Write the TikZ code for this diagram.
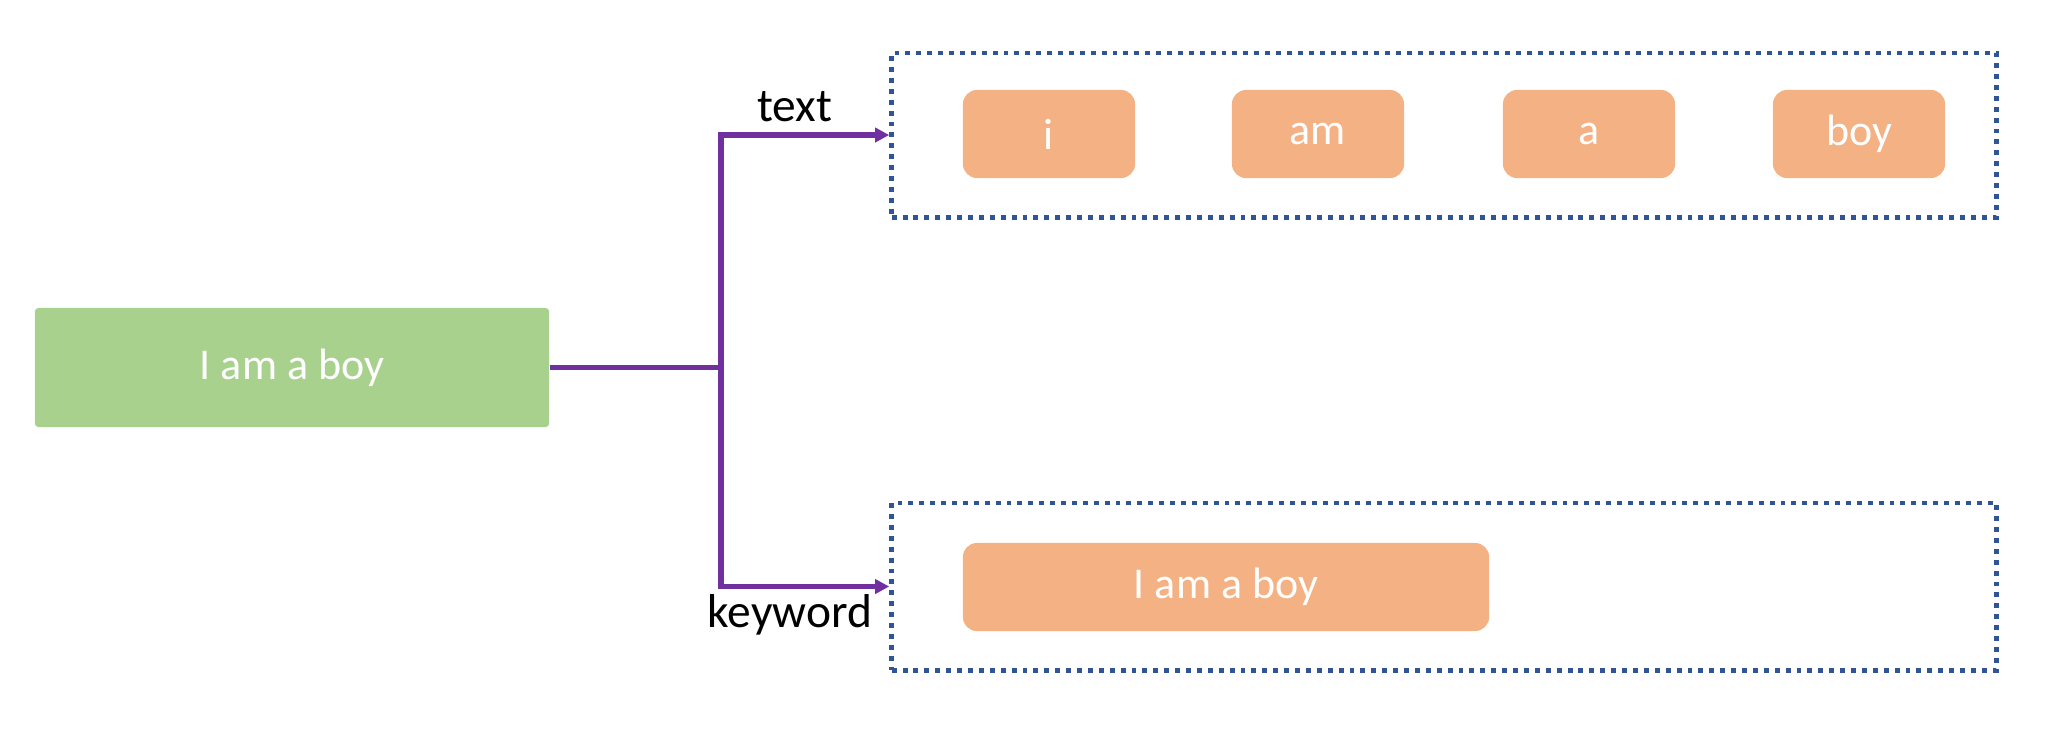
\documentclass[tikz,border=0pt]{standalone}
\usepackage{fontspec}
\setmainfont{Carlito}
\usetikzlibrary{arrows.meta}
\definecolor{gfill}{HTML}{A9D18E}
\definecolor{ofill}{HTML}{F4B183}
\definecolor{pline}{HTML}{7030A0}
\definecolor{dline}{HTML}{2F5597}
\begin{document}
\begin{tikzpicture}[x=0.01cm,y=-0.01cm,
  greenbox/.style={fill=gfill,draw=none,rounded corners=1pt,minimum width=5.14cm,minimum height=1.19cm,text=white,font=\fontsize{12.5}{14}\selectfont,inner sep=0pt},
  wordbox/.style={fill=ofill,draw=none,rounded corners=4pt,minimum width=1.72cm,minimum height=0.88cm,text=white,font=\fontsize{12.5}{14}\selectfont,inner sep=0pt},
  dotbox/.style={draw=dline,line width=1.4pt,dash pattern=on 1.4pt off 1.7pt,fill=none,inner sep=0pt},
  conn/.style={draw=pline,line width=1.5pt},
  arr/.style={conn,-{Triangle[length=4pt,width=4pt]}},
  lbl/.style={font=\fontsize{13.5}{15}\selectfont,text=black,inner sep=0pt}]
\useasboundingbox (0,0) rectangle (2048,729);
\node[greenbox] (src) at (292,367.5) {I am a boy};
\node[dotbox,minimum width=11.04cm,minimum height=1.64cm] (top) at (1444,135) {};
\node[dotbox,minimum width=11.04cm,minimum height=1.67cm] (bot) at (1444,586.5) {};
\node[wordbox] (w1) at (1049,134) {i};
\node[wordbox] (w2) at (1318,134) {am};
\node[wordbox] (w3) at (1589,134) {a};
\node[wordbox] (w4) at (1859,134) {boy};
\node[wordbox,minimum width=5.26cm] (kw) at (1226,587) {I am a boy};
\coordinate (j) at (721,367.5);
\draw[conn] (src.east) -- (j);
\draw[arr] (j) |- (top.west);
\draw[arr] (j) |- (bot.west);
\node[lbl] (ltext) at (795,107) {text};
\node[lbl] (lkey) at (790,615) {keyword};
\end{tikzpicture}
\end{document}
